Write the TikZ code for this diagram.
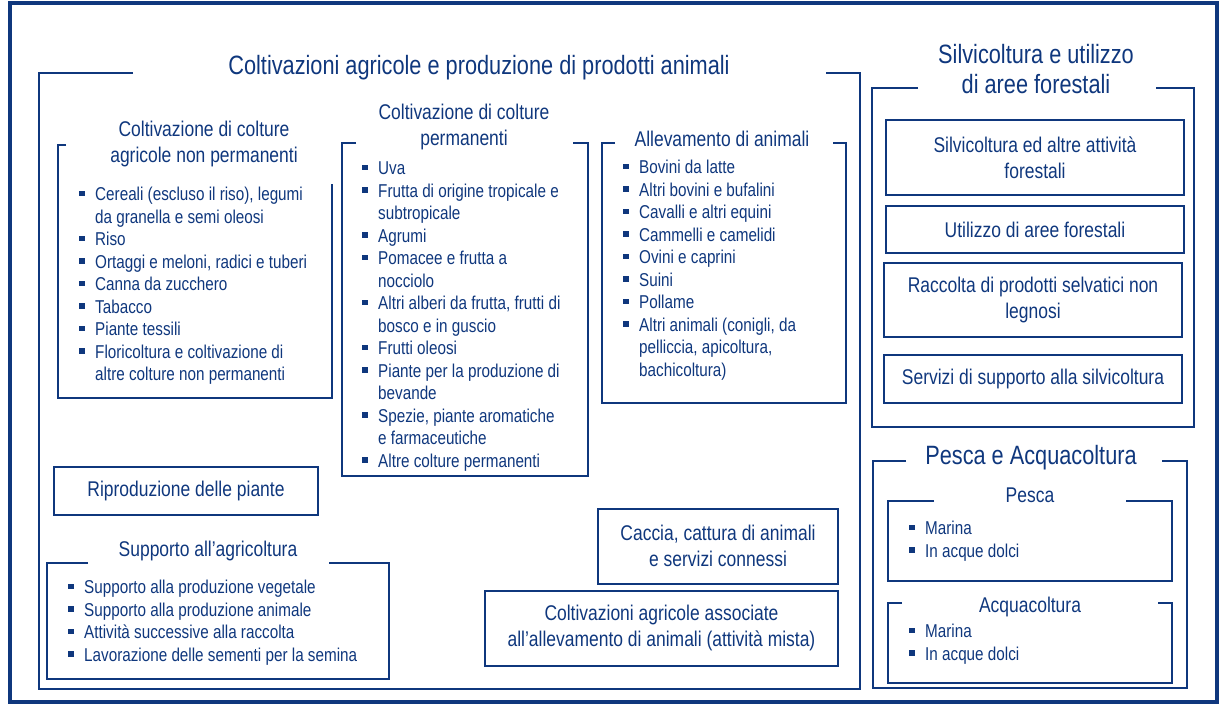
\documentclass[tikz,border=0pt]{standalone}
\usepackage{fontspec}
\setmainfont{Liberation Sans}[FakeStretch=0.82]
\usepackage{array}

\definecolor{navy}{RGB}{15,55,125}
\newcommand{\bigfont}{\fontsize{26.5}{30}\selectfont}
\newcommand{\midfont}{\fontsize{21.3}{26}\selectfont}
\newcommand{\smallfont}{\fontsize{18.6}{22.5}\selectfont}
\newcommand{\bul}{\rule[4.5pt]{5.5pt}{5.5pt}}
\newcommand{\itemlist}[1]{\begin{tabular}{@{}p{16pt}@{}l@{}}#1\end{tabular}}

\begin{document}
\begin{tikzpicture}[
        x=1pt, y=-1pt, % pixel grid, y going down
        frame/.style={navy, line width=2pt},
        title/.style={text=navy, align=center, inner sep=0pt, font=\bigfont},
        subtitle/.style={text=navy, align=center, inner sep=0pt, font=\midfont},
        boxnode/.style={draw=navy, line width=2pt, text=navy, align=center, inner sep=0pt, font=\midfont},
        list/.style={text=navy, anchor=north west, inner sep=0pt, font=\smallfont}
        ]

        \useasboundingbox (0,0) rectangle (1223,705);

        % 1. Outer border
        \draw[navy, line width=4pt] (10,2.5) rectangle (1217,702);

        % 2. Coltivazioni agricole e produzione di prodotti animali
        \draw[frame] (133,73) -- (39,73) -- (39,689) -- (860,689) -- (860,73) -- (826,73);
        \node[title] (tagri) at (479,67.5) {Coltivazioni agricole e produzione di prodotti animali};

        % Colture non permanenti
        \draw[frame] (66,145) -- (58,145) -- (58,398) -- (332,398) -- (332,184);
        \node[subtitle] (tnonperm) at (204,143.5) {Coltivazione di colture\\agricole non permanenti};
        \node[list] (lnonperm) at (79,185) {\itemlist{
            \bul & Cereali (escluso il riso), legumi\\
                 & da granella e semi oleosi\\
            \bul & Riso\\
            \bul & Ortaggi e meloni, radici e tuberi\\
            \bul & Canna da zucchero\\
            \bul & Tabacco\\
            \bul & Piante tessili\\
            \bul & Floricoltura e coltivazione di\\
                 & altre colture non permanenti}};

        % Colture permanenti
        \draw[frame] (356,143) -- (342,143) -- (342,476) -- (588,476) -- (588,143) -- (573,143);
        \node[subtitle] (tperm) at (464,127) {Coltivazione di colture\\permanenti};
        \node[list] (lperm) at (362,159) {\itemlist{
            \bul & Uva\\
            \bul & Frutta di origine tropicale e\\
                 & subtropicale\\
            \bul & Agrumi\\
            \bul & Pomacee e frutta a\\
                 & nocciolo\\
            \bul & Altri alberi da frutta, frutti di\\
                 & bosco e in guscio\\
            \bul & Frutti oleosi\\
            \bul & Piante per la produzione di\\
                 & bevande\\
            \bul & Spezie, piante aromatiche\\
                 & e farmaceutiche\\
            \bul & Altre colture permanenti}};

        % Allevamento
        \draw[frame] (615,143) -- (602,143) -- (602,403) -- (846,403) -- (846,143) -- (833,143);
        \node[subtitle] (tallev) at (722,139) {Allevamento di animali};
        \node[list] (lallev) at (623,158) {\itemlist{
            \bul & Bovini da latte\\
            \bul & Altri bovini e bufalini\\
            \bul & Cavalli e altri equini\\
            \bul & Cammelli e camelidi\\
            \bul & Ovini e caprini\\
            \bul & Suini\\
            \bul & Pollame\\
            \bul & Altri animali (conigli, da\\
                 & pelliccia, apicoltura,\\
                 & bachicoltura)}};

        % Boxes
        \node[boxnode, minimum width=264, minimum height=48] (ripro) at (186,491) {Riproduzione delle piante};
        \node[boxnode, minimum width=240, minimum height=75] (caccia) at (718,546) {Caccia, cattura di animali\\e servizi connessi};
        \node[boxnode, minimum width=353, minimum height=75] (mista) at (661.5,628) {Coltivazioni agricole associate\\all’allevamento di animali (attività mista)};

        % Supporto
        \draw[frame] (88,563) -- (47,563) -- (47,679) -- (389,679) -- (389,563) -- (329,563);
        \node[subtitle] (tsupp) at (208,551) {Supporto all’agricoltura};
        \node[list] (lsupp) at (68,578) {\itemlist{
            \bul & Supporto alla produzione vegetale\\
            \bul & Supporto alla produzione animale\\
            \bul & Attività successive alla raccolta\\
            \bul & Lavorazione delle sementi per la semina}};

        % 3. Silvicoltura
        \draw[frame] (918,88) -- (872,88) -- (872,427) -- (1194,427) -- (1194,88) -- (1156,88);
        \node[title] (tsilv) at (1036,69) {Silvicoltura e utilizzo\\di aree forestali};
        \node[boxnode, minimum width=298, minimum height=75] (silv) at (1035,157.5) {Silvicoltura ed altre attività\\forestali};
        \node[boxnode, minimum width=298, minimum height=47] (utilizzo) at (1035,229.5) {Utilizzo di aree forestali};
        \node[boxnode, minimum width=298, minimum height=74] (raccolta) at (1033,300) {Raccolta di prodotti selvatici non\\legnosi};
        \node[boxnode, minimum width=298, minimum height=48] (servizi) at (1033,378.5) {Servizi di supporto alla silvicoltura};

        % 4. Pesca e Acquacoltura
        \draw[frame] (906,461) -- (873,461) -- (873,688) -- (1187,688) -- (1187,461) -- (1162,461);
        \node[title] (tpesca) at (1031,457.5) {Pesca e Acquacoltura};

        \draw[frame] (934,501) -- (888,501) -- (888,581) -- (1172,581) -- (1172,501) -- (1126,501);
        \node[subtitle] (tpescasub) at (1030,495) {Pesca};
        \node[list] (lpesca) at (909,519) {\itemlist{
            \bul & Marina\\
            \bul & In acque dolci}};

        \draw[frame] (902,603) -- (888,603) -- (888,683) -- (1172,683) -- (1172,603) -- (1158,603);
        \node[subtitle] (tacqua) at (1030,607) {Acquacoltura};
        \node[list] (lacqua) at (909,622) {\itemlist{
            \bul & Marina\\
            \bul & In acque dolci}};
\end{tikzpicture}
\end{document}
